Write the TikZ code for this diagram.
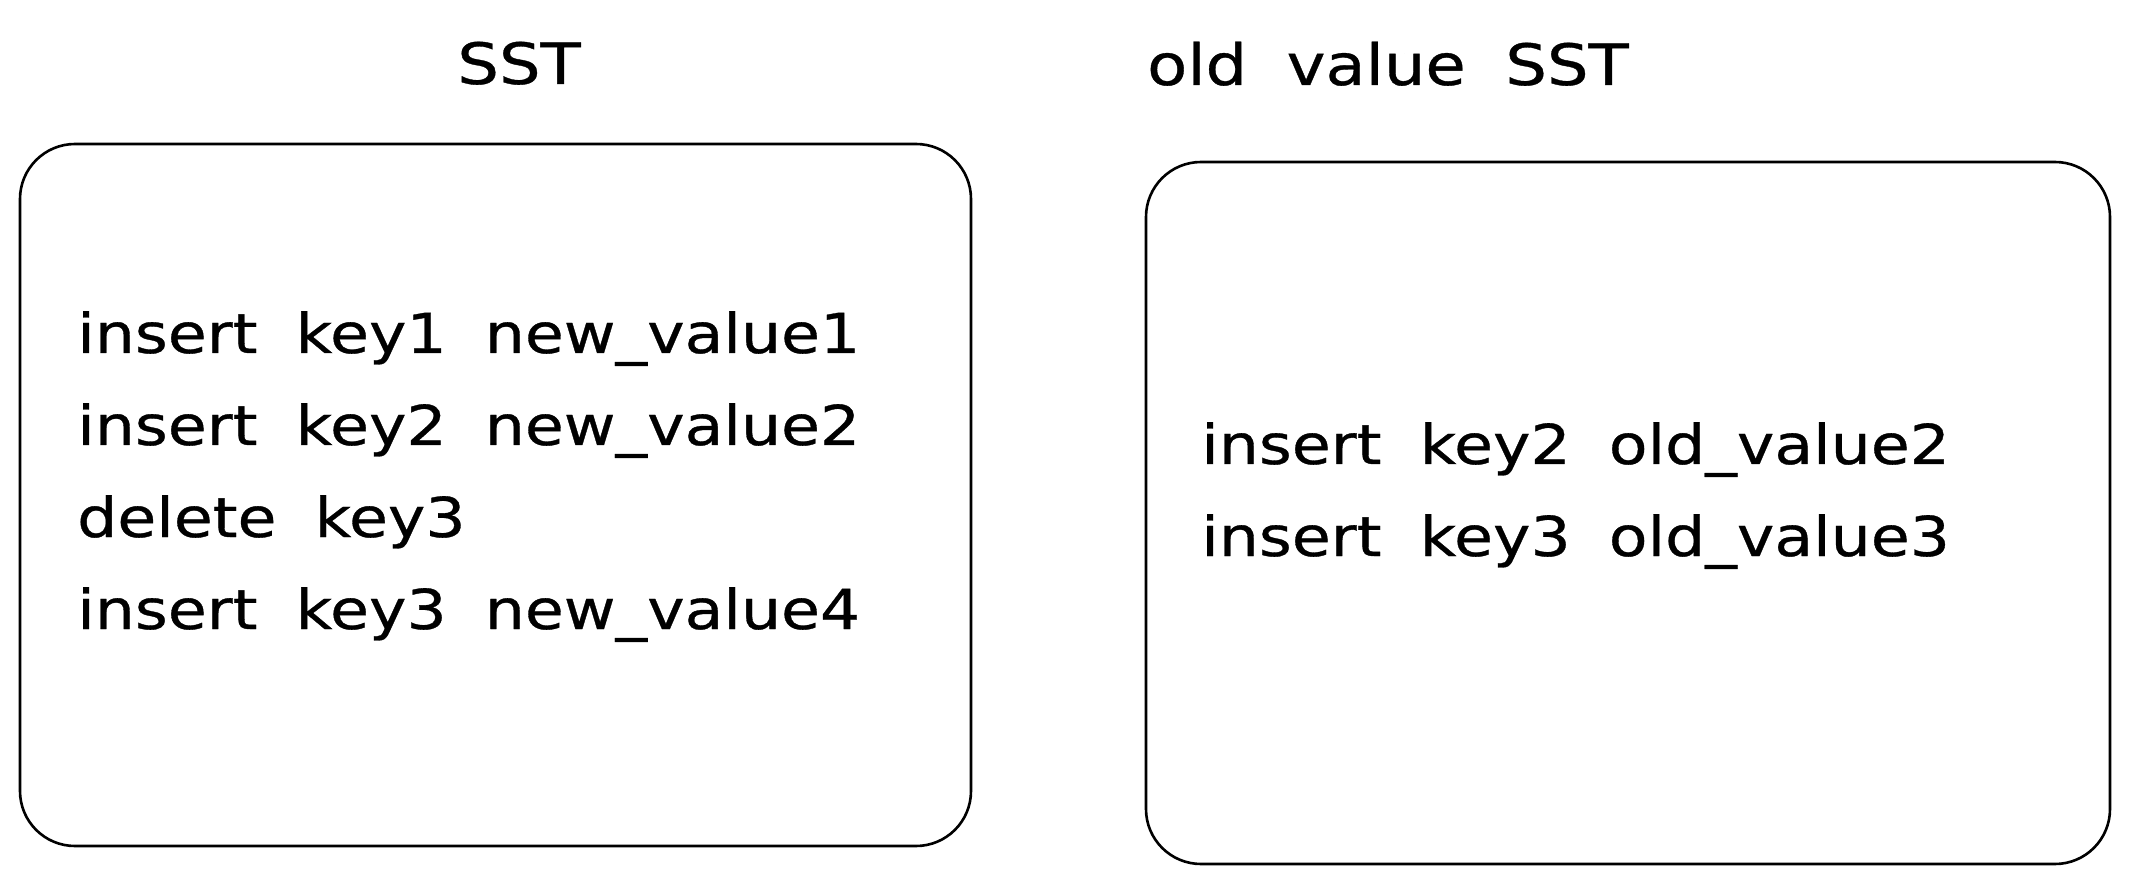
\documentclass[tikz,border=0pt]{standalone}
\usepackage{fontspec}
\setmainfont{DejaVu Sans}[FakeStretch=1.15,WordSpace=1.9,FakeBold=0.6]
\begin{document}
\begin{tikzpicture}[x=1pt,y=-1pt,
  box/.style={draw=black,line width=2.6pt,rounded corners=55pt},
  txt/.style={anchor=base west,inner sep=0pt,font=\fontsize{55}{60}\selectfont},
  ttl/.style={anchor=base,inner sep=0pt,font=\fontsize{57}{60}\selectfont}]
\useasboundingbox[fill=white] (0,0) rectangle (2129,882);
\draw[box] (20,144) rectangle (971,846);
\draw[box] (1146,162) rectangle (2110,864);
\node[ttl] (t1) at (519,84) {SST};
\node[ttl,anchor=base west] (t2) at (1147,85) {old value SST};
\node[txt] (l1) at (77,353) {insert key1 new\_value1};
\node[txt] (l2) at (77,445) {insert key2 new\_value2};
\node[txt] (l3) at (77,537) {delete key3};
\node[txt] (l4) at (77,629) {insert key3 new\_value4};
\node[txt] (r1) at (1201,464) {insert key2 old\_value2};
\node[txt] (r2) at (1201,556) {insert key3 old\_value3};
\end{tikzpicture}
\end{document}
